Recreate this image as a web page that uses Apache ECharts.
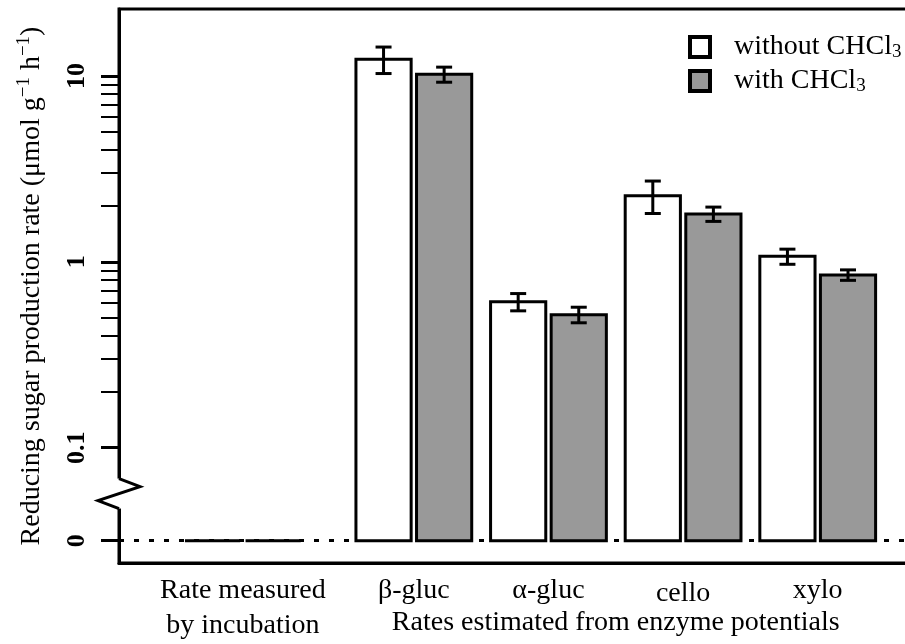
<!DOCTYPE html>
<html>
<head>
<meta charset="utf-8">
<script src="https://cdn.jsdelivr.net/npm/echarts@6/dist/echarts.min.js"></script>
<style>
html,body{margin:0;padding:0;background:#fff;}
#main{width:905px;height:644px;}
</style>
</head>
<body>
<div id="main"></div>
<script>
// categories (x groups)
let groupNames=['Rate measured\nby incubation','β-gluc','α-gluc','cello','xylo'];
let seriesNames=['without CHCl3','with CHCl3'];
// reducing sugar production rate, µmol g-1 h-1 (0 = not detected)
let withoutMean=[0,12.3,0.61,2.27,1.07];
let withoutSe=[0,2.0,0.065,0.45,0.10];
let withMean=[0,10.2,0.52,1.81,0.85];
let withSe=[0,0.95,0.05,0.16,0.055];
// y ticks
let majorTicks=[0,0.1,1,10];
let majorLabels=['0','0.1','1','10'];
let minorTicks=[0.2,0.3,0.4,0.5,0.6,0.7,0.8,0.9,2,3,4,5,6,7,8,9];
let bottomTitle='Rates estimated from enzyme potentials';

// layout of the broken log axis (axis units = log10 of value)
const ZERO_POS=-1.5;          // where 0 sits below the break
const BREAK_TOP=-1.166, BREAK_BOTTOM=-1.327;
const FIRST_GAP=0.27;         // extra space after first group
const BAR_W=0.41, BAR_GAP=0.04;
const FONT='Liberation Serif';

function toAxis(v){
    return v>0?Math.log10(v):ZERO_POS;
}
function groupX(i){
    return i+(i>0?FIRST_GAP:0);
}
function barData(mean,se,side){
    let out=[];
    for(let i=0;i<mean.length;i++){
        let x=groupX(i)+side*(BAR_W+BAR_GAP)/2;
        let lo=se[i]>0?toAxis(mean[i]-se[i]):toAxis(mean[i]);
        let hi=se[i]>0?toAxis(mean[i]+se[i]):toAxis(mean[i]);
        out.push([x,toAxis(mean[i]),lo,hi]);
    }
    return out;
}

function drawBar(params,api){
    let x=api.value(0),top=api.value(1),lo=api.value(2),hi=api.value(3);
    let a=api.coord([x-BAR_W/2,top]);
    let b=api.coord([x+BAR_W/2,ZERO_POS]);
    let kids=[{
        type:'rect',
        shape:{x:a[0],y:a[1],width:b[0]-a[0],height:b[1]-a[1]},
        style:{fill:api.visual('color'),stroke:'#000',lineWidth:3}
    }];
    if(hi>lo){
        let u=api.coord([x,hi]),d=api.coord([x,lo]);
        let ls={stroke:'#000',lineWidth:3};
        kids.push({type:'line',shape:{x1:u[0],y1:u[1],x2:d[0],y2:d[1]},style:ls});
        kids.push({type:'line',shape:{x1:u[0]-8,y1:u[1],x2:u[0]+8,y2:u[1]},style:ls});
        kids.push({type:'line',shape:{x1:d[0]-8,y1:d[1],x2:d[0]+8,y2:d[1]},style:ls});
    }
    return {type:'group',children:kids};
}

let majorPos=majorTicks.map(toAxis);
let minorPos=minorTicks.map(toAxis);
let groupPos=groupNames.map(function(n,i){return groupX(i);});
let enzymeMid=(groupX(1)+groupX(groupNames.length-1))/2;

function nearestIndex(list,v){
    let best=0;
    for(let i=1;i<list.length;i++){
        if(Math.abs(list[i]-v)<Math.abs(list[best]-v)) best=i;
    }
    return best;
}

let chart=echarts.init(document.getElementById('main'),null,{renderer:'canvas'});
let fills=['#ffffff','#999999'];

let option={
    animation:false,
    backgroundColor:'#fff',
    grid:{left:119,top:9,right:-11,bottom:81,show:true,borderColor:'#000',borderWidth:3,
        containLabel:false,outerBoundsMode:'none'},
    legend:{
        orient:'vertical',left:683,top:28,itemWidth:20,itemHeight:20,itemGap:5,icon:'rect',
        data:seriesNames.map(function(n,i){
            return {name:n,itemStyle:{color:fills[i],borderColor:'#000',borderWidth:4}};
        }),
        formatter:function(name){
            return '{t|'+name.replace('CHCl3','CHCl')+'}{s|3}';
        },
        textStyle:{
            rich:{
                t:{fontFamily:FONT,fontSize:28,color:'#000',lineHeight:30,padding:[0,0,0,19]},
                s:{fontFamily:FONT,fontSize:19,color:'#000',lineHeight:14,verticalAlign:'bottom'}
            }
        }
    },
    xAxis:[{
        type:'value',min:-0.92,max:5.0,position:'bottom',
        axisLine:{show:true,onZero:false,lineStyle:{color:'#000',width:3}},
        axisTick:{show:false},splitLine:{show:false},
        axisLabel:{
            customValues:groupPos,margin:10,
            fontFamily:FONT,fontSize:28,lineHeight:35,color:'#000',
            formatter:function(v){
                let n=groupNames[nearestIndex(groupPos,v)];
                return n==='cello'?'{c|cello}':n;
            },
            rich:{c:{fontFamily:FONT,fontSize:28,color:'#000',padding:[7,0,0,0]}}
        }
    },{
        type:'value',min:-0.92,max:5.0,position:'bottom',
        axisLine:{show:false,onZero:false},axisTick:{show:false},splitLine:{show:false},
        axisLabel:{
            customValues:[enzymeMid],margin:46,
            fontFamily:FONT,fontSize:28,color:'#000',
            formatter:function(){return bottomTitle;}
        }
    }],
    yAxis:[{
        type:'value',min:-1.62,max:1.36,position:'left',
        name:'{t|Reducing sugar production rate (μmol g}{p|−1}{t| h}{p|−1}{t|)}',
        nameLocation:'middle',nameRotate:90,nameGap:70,
        nameTextStyle:{
            rich:{
                t:{fontFamily:FONT,fontSize:28,color:'#000',lineHeight:34},
                p:{fontFamily:FONT,fontSize:19,color:'#000',lineHeight:19,verticalAlign:'top'}
            }
        },
        axisLine:{show:true,onZero:false,lineStyle:{color:'#000',width:3}},
        axisTick:{show:true,inside:false,length:18,customValues:majorPos,lineStyle:{color:'#000',width:3}},
        splitLine:{show:false},
        axisLabel:{
            customValues:majorPos,rotate:90,margin:29,
            fontFamily:FONT,fontSize:26,fontWeight:'bold',color:'#000',
            formatter:function(v){return majorLabels[nearestIndex(majorPos,v)];}
        }
    },{
        type:'value',min:-1.62,max:1.36,position:'left',
        axisLine:{show:false,onZero:false},
        axisTick:{show:true,length:18,customValues:minorPos,lineStyle:{color:'#000',width:2}},
        axisLabel:{show:false},splitLine:{show:false}
    }],
    series:[{
        name:seriesNames[0],type:'custom',renderItem:drawBar,
        itemStyle:{color:fills[0]},
        encode:{x:0,y:1},
        data:barData(withoutMean,withoutSe,-1),
        z:3,
        markLine:{
            silent:true,symbol:'none',label:{show:false},
            lineStyle:{color:'#000',width:3,type:[5,10]},
            data:[{yAxis:ZERO_POS}],z:1
        }
    },{
        name:seriesNames[1],type:'custom',renderItem:drawBar,
        itemStyle:{color:fills[1]},
        encode:{x:0,y:1},
        data:barData(withMean,withSe,1),
        z:3
    }]
};
chart.setOption(option);

// axis break: blank the axis between break points and draw zigzag
let ax=chart.convertToPixel({xAxisIndex:0},-0.92);
let yb1=chart.convertToPixel({yAxisIndex:0},BREAK_TOP);
let yb2=chart.convertToPixel({yAxisIndex:0},BREAK_BOTTOM);
chart.setOption({
    graphic:[{
        type:'rect',z:100,
        shape:{x:ax-3,y:yb1,width:6,height:yb2-yb1},
        style:{fill:'#fff'}
    },{
        type:'polyline',z:101,
        shape:{points:[[ax,yb1],[ax+21,yb1+8],[ax-21,yb2-8],[ax,yb2]]},
        style:{stroke:'#000',lineWidth:3,fill:null}
    }]
});
</script>
</body>
</html>
